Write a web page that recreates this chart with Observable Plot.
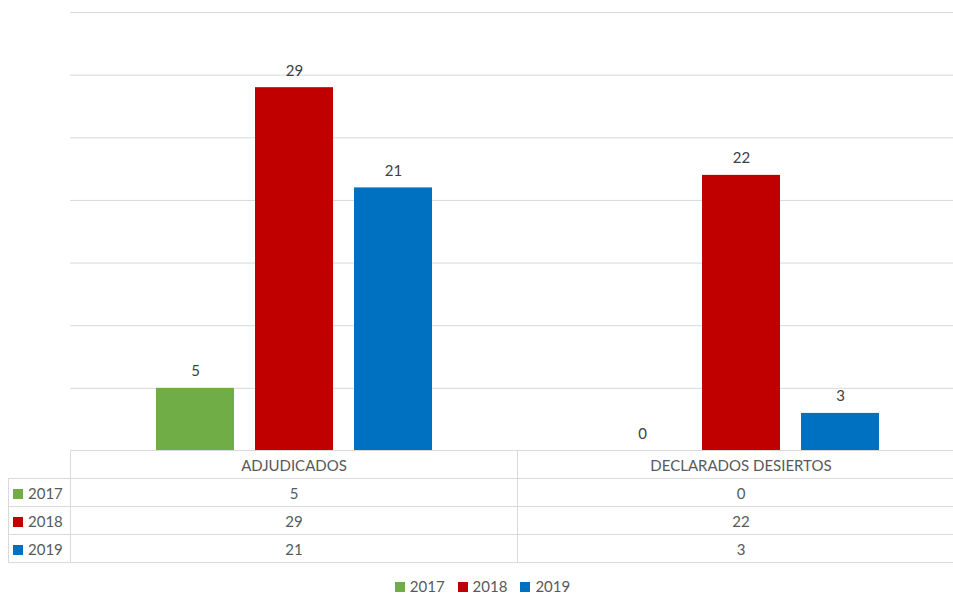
<!DOCTYPE html>
<html>
<head>
<meta charset="utf-8">
<script src="https://cdn.jsdelivr.net/npm/d3@7"></script>
<script src="https://cdn.jsdelivr.net/npm/@observablehq/plot@0.6"></script>
<style>
  body { margin: 0; background: #fff; font-family: Lato, "Open Sans", sans-serif; }
  #wrap { position: relative; width: 953px; height: 594px; overflow: hidden; }
  #chart { position: absolute; left: 0; top: 0; width: 964px; }
  #chart svg { max-width: none !important; }
  table { position: absolute; left: 8px; top: 450px; width: 956px; table-layout: fixed; border-collapse: collapse; color: #595959; font-size: 15px; }
  td { border: 1px solid #d9d9d9; text-align: center; height: 27px; padding: 0; white-space: nowrap; }
  td.blank { border-left: none; border-top: none; }
  td.key { text-align: left; padding-left: 4px; }
  .sw { display: inline-block; width: 10px; height: 10px; margin-right: 5px; vertical-align: 0px; }
  #legend { position: absolute; top: 579px; left: 0; width: 953px; height: 15px; line-height: 15px; display: flex; justify-content: center; gap: 13px; color: #595959; font-size: 15px; padding-left: 12px; box-sizing: border-box; }
  #legend span.item { display: flex; align-items: center; }
</style>
</head>
<body>
<div id="wrap">
  <div id="chart"></div>
  <table id="tbl"></table>
  <div id="legend"></div>
</div>
<script>
const categories = ["ADJUDICADOS", "DECLARADOS DESIERTOS"];
const years = ["2017", "2018", "2019"];
const v2017 = [5, 0];
const v2018 = [29, 22];
const v2019 = [21, 3];
const colors = ["#70ad47", "#c00000", "#0070c0"];
const gridTicks = [0, 5, 10, 15, 20, 25, 30, 35];

const series = [v2017, v2018, v2019];
const data = [];
categories.forEach((c, i) => years.forEach((y, j) => data.push({category: c, year: y, value: series[j][i]})));

const chart = Plot.plot({
  width: 964,
  height: 451,
  marginLeft: 70,
  marginRight: 0,
  marginTop: 12,
  marginBottom: 0.5,
  style: {fontFamily: "Lato, 'Open Sans', sans-serif", background: "white", maxWidth: "none"},
  fx: {domain: categories, padding: 0, axis: null},
  x: {domain: years, paddingInner: 0.216, paddingOuter: 0.85, axis: null},
  y: {domain: [0, 35], axis: null},
  color: {domain: years, range: colors},
  marks: [
    Plot.gridY(gridTicks, {stroke: "#d9d9d9", strokeOpacity: 1, strokeWidth: 1}),
    Plot.barY(data, {fx: "category", x: "year", y: "value", fill: "year"}),
    Plot.text(data, {fx: "category", x: "year", y: "value", text: d => String(d.value),
      lineAnchor: "bottom", dy: -12, fill: "#404040", fontSize: 15})
  ]
});
document.getElementById("chart").appendChild(chart);

// data table
const tbl = document.getElementById("tbl");
let html = '<colgroup><col style="width:62px"><col style="width:447px"><col style="width:447px"></colgroup>';
html += '<tr><td class="blank"></td>' +
  categories.map(c => `<td>${c}</td>`).join("") + '</tr>';
years.forEach((y, j) => {
  html += `<tr><td class="key"><span class="sw" style="background:${colors[j]}"></span>${y}</td>` +
    categories.map((c, i) => `<td>${series[j][i]}</td>`).join("") + '</tr>';
});
tbl.innerHTML = html;

// legend
document.getElementById("legend").innerHTML = years.map((y, j) =>
  `<span class="item"><span class="sw" style="background:${colors[j]}"></span>${y}</span>`).join("");
</script>
</body>
</html>
